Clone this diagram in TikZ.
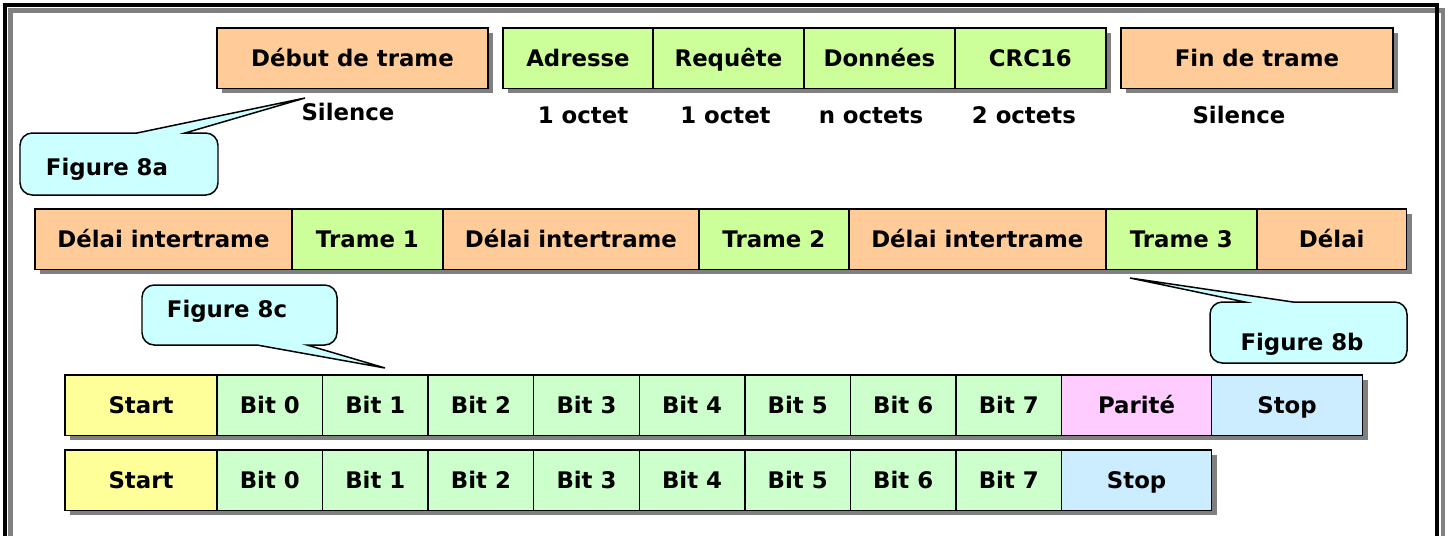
\documentclass[tikz,border=0pt]{standalone}
\usepackage{fontspec}
\setmainfont{DejaVu Sans}
\usepackage{tikz}
\usetikzlibrary{positioning,shadows}

\definecolor{peach}{HTML}{FFCC99}
\definecolor{lime}{HTML}{CCFF99}
\definecolor{mint}{HTML}{CCFFCC}
\definecolor{paleyellow}{HTML}{FFFF99}
\definecolor{palepink}{HTML}{FFCCFF}
\definecolor{palesky}{HTML}{CCECFF}
\definecolor{palecyan}{HTML}{CCFFFF}
\definecolor{shadowgray}{HTML}{808080}

\tikzset{
  txt/.style={font=\fontsize{13}{15}\selectfont\bfseries, text height=9.5pt, text depth=0pt},
  cell/.style={txt, draw, line width=0.85pt, inner sep=0pt, outer sep=0pt,
    minimum height=1.21cm,
    drop shadow={shadow xshift=0.1cm, shadow yshift=-0.1cm, fill=shadowgray, opacity=1}},
  lbl/.style={txt, inner sep=0pt},
  bulle/.style={draw, line width=0.85pt, fill=palecyan},
}

\begin{document}
\begin{tikzpicture}[x=0.02cm, y=-0.02cm]
  \useasboundingbox (0,0) rectangle (1450,535);

  % cadre
  \draw[shadowgray, line width=2.3pt] (10.5,545) -- (10.5,10.5) -- (1443,10.5) -- (1443,545);
  \draw[line width=2.3pt] (5,545) -- (5,5) -- (1437,5) -- (1437,545);

  % figure 8a : la trame
  \node[cell, fill=peach, minimum width=5.42cm, anchor=north west] (debut) at (217,28) {Début de trame};
  \node[cell, fill=lime, minimum width=3cm, anchor=north west] (adresse) at (503,28) {Adresse};
  \node[cell, fill=lime, minimum width=3.02cm, right=0pt of adresse] (requete) {Requête};
  \node[cell, fill=lime, minimum width=3.02cm, right=0pt of requete] (donnees) {Données};
  \node[cell, fill=lime, minimum width=3.02cm, right=0pt of donnees] (crc) {CRC16};
  \node[cell, fill=peach, minimum width=5.44cm, anchor=north west] (fin) at (1121,28) {Fin de trame};

  \node[lbl, below=8.5pt of debut, xshift=-0.09cm] (silDebut) {Silence};
  \node[lbl, below=10pt of adresse, xshift=0.1cm] (octAdr) {1 octet};
  \node[lbl, below=10pt of requete, xshift=-0.06cm] (octReq) {1 octet};
  \node[lbl, below=10pt of donnees, xshift=-0.17cm] (octDon) {n octets};
  \node[lbl, below=10pt of crc, xshift=-0.13cm] (octCrc) {2 octets};
  \node[lbl, below=10pt of fin, xshift=-0.36cm] (silFin) {Silence};

  % figure 8b : suite de trames
  \node[cell, fill=peach, minimum width=5.14cm, anchor=north west] (delai1) at (35,209) {Délai intertrame};
  \node[cell, fill=lime, minimum width=3.02cm, right=0pt of delai1] (trame1) {Trame 1};
  \node[cell, fill=peach, minimum width=5.12cm, right=0pt of trame1] (delai2) {Délai intertrame};
  \node[cell, fill=lime, minimum width=3cm, right=0pt of delai2] (trame2) {Trame 2};
  \node[cell, fill=peach, minimum width=5.14cm, right=0pt of trame2] (delai3) {Délai intertrame};
  \node[cell, fill=lime, minimum width=3.02cm, right=0pt of delai3] (trame3) {Trame 3};
  \node[cell, fill=peach, minimum width=3cm, right=0pt of trame3] (delai4) {Délai};

  % figure 8c : caractere avec parite
  \node[cell, fill=paleyellow, minimum width=3.04cm, anchor=north west] (startA) at (65,375) {Start};
  \node[cell, fill=mint, minimum width=2.112cm, right=0pt of startA] (a0) {Bit 0};
  \node[cell, fill=mint, minimum width=2.112cm, right=0pt of a0] (a1) {Bit 1};
  \node[cell, fill=mint, minimum width=2.112cm, right=0pt of a1] (a2) {Bit 2};
  \node[cell, fill=mint, minimum width=2.112cm, right=0pt of a2] (a3) {Bit 3};
  \node[cell, fill=mint, minimum width=2.112cm, right=0pt of a3] (a4) {Bit 4};
  \node[cell, fill=mint, minimum width=2.112cm, right=0pt of a4] (a5) {Bit 5};
  \node[cell, fill=mint, minimum width=2.112cm, right=0pt of a5] (a6) {Bit 6};
  \node[cell, fill=mint, minimum width=2.112cm, right=0pt of a6] (a7) {Bit 7};
  \node[cell, fill=palepink, minimum width=3cm, right=0pt of a7] (parite) {Parité};
  \node[cell, fill=palesky, minimum width=3.02cm, right=0pt of parite] (stopA) {Stop};

  % caractere sans parite
  \node[cell, fill=paleyellow, minimum width=3.04cm, anchor=north west] (startB) at (65,450) {Start};
  \node[cell, fill=mint, minimum width=2.112cm, right=0pt of startB] (b0) {Bit 0};
  \node[cell, fill=mint, minimum width=2.112cm, right=0pt of b0] (b1) {Bit 1};
  \node[cell, fill=mint, minimum width=2.112cm, right=0pt of b1] (b2) {Bit 2};
  \node[cell, fill=mint, minimum width=2.112cm, right=0pt of b2] (b3) {Bit 3};
  \node[cell, fill=mint, minimum width=2.112cm, right=0pt of b3] (b4) {Bit 4};
  \node[cell, fill=mint, minimum width=2.112cm, right=0pt of b4] (b5) {Bit 5};
  \node[cell, fill=mint, minimum width=2.112cm, right=0pt of b5] (b6) {Bit 6};
  \node[cell, fill=mint, minimum width=2.112cm, right=0pt of b6] (b7) {Bit 7};
  \node[cell, fill=palesky, minimum width=3cm, right=0pt of b7] (stopB) {Stop};

  % bulles
  \coordinate (pointeA) at (305,98);
  \coordinate (pointeB) at (1130,278);
  \coordinate (pointeC) at (385,368);

  \draw[bulle] (60,133) -- (137,133) -- (pointeA) -- (185,133)
    [rounded corners=7pt] -- (218,133) -- (218,195) -- (20,195) -- (20,133) -- cycle;
  \node[lbl] (figA) at (107,167) {Figure 8a};

  \draw[bulle] (1350,302) -- (1293,302) -- (pointeB) -- (1245,302)
    [rounded corners=7pt] -- (1210,302) -- (1210,363) -- (1407,363) -- (1407,302) -- cycle;
  \node[lbl] (figB) at (1302,342) {Figure 8b};

  \draw[bulle] (200,345) -- (257,345) -- (pointeC) -- (307,345)
    [rounded corners=7pt] -- (337,345) -- (337,285) -- (142,285) -- (142,345) -- cycle;
  \node[lbl] (figC) at (227,309) {Figure 8c};
\end{tikzpicture}
\end{document}
